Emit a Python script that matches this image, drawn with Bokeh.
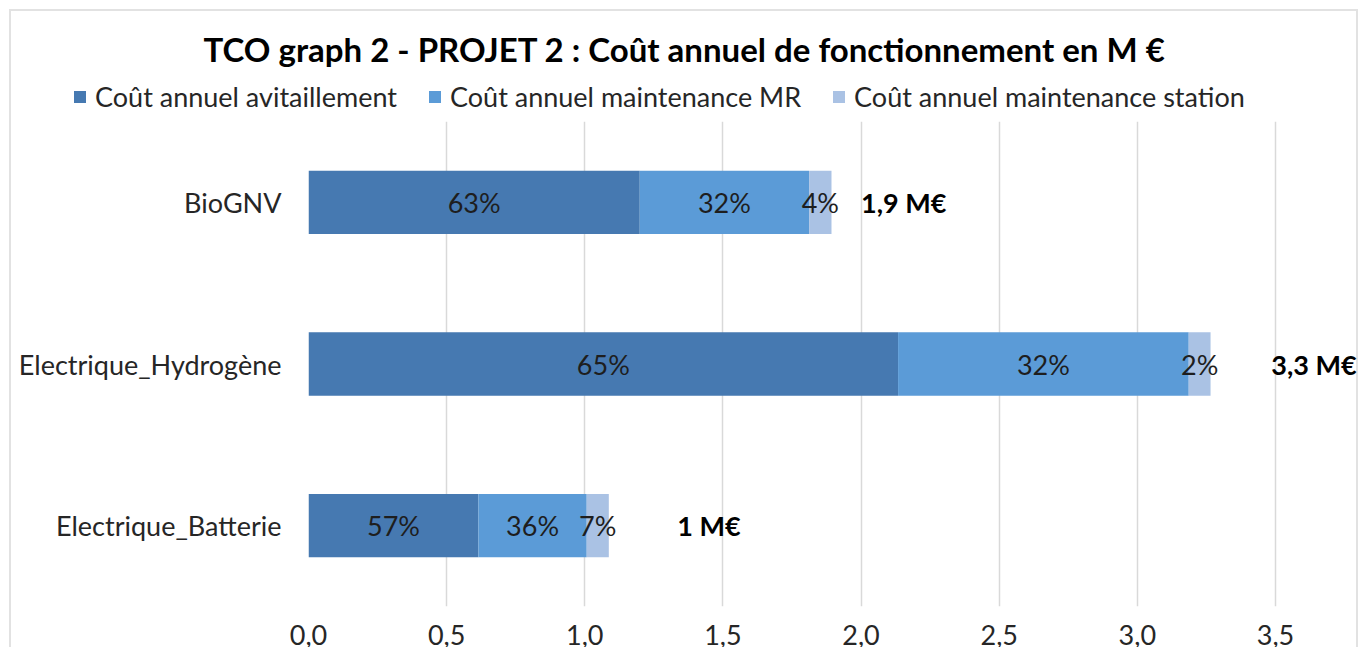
from bokeh.plotting import figure
from bokeh.models import (ColumnDataSource, FactorRange, Range1d, Legend, LegendItem,
                          FixedTicker, Label)
from bokeh.core.properties import value
from bokeh.embed import file_html
from bokeh.resources import INLINE

# ---------------- data ----------------
categories = ["BioGNV", "Electrique_Hydrogène", "Electrique_Batterie"]  # top -> bottom
avitaillement = [1.199, 2.134, 0.615]
maintenance_mr = [0.613, 1.052, 0.392]
maintenance_station = [0.081, 0.079, 0.080]
series_names = ["Coût annuel avitaillement", "Coût annuel maintenance MR",
                "Coût annuel maintenance station"]
total_labels = ["1,9 M€", "3,3 M€", "1 M€"]
total_label_x = [2.0, 3.485, 1.335]
x_ticks = [0.0, 0.5, 1.0, 1.5, 2.0, 2.5, 3.0, 3.5]
x_tick_labels = ["0,0", "0,5", "1,0", "1,5", "2,0", "2,5", "3,0", "3,5"]
title_text = "TCO graph 2 - PROJET 2 :  Coût annuel de fonctionnement en M €"

# ---------------- style ----------------
FONT = "Lato"
FS = "27px"
colors = ["#4679b1", "#5b9bd7", "#aac2e4"]
text_col = "#262626"
W, H_TOP, H_MAIN = 1362, 121, 526
G = "linear-gradient(#e2e2e2,#e2e2e2)"

# ---------------- header figure: title + legend ----------------
top = figure(width=W, height=H_TOP, output_backend="svg", toolbar_location=None,
             x_range=Range1d(0, W), y_range=Range1d(0, H_TOP),
             x_axis_location=None, y_axis_location=None,
             min_border_left=0, min_border_right=0, min_border_top=0, min_border_bottom=0,
             styles={"background": f"{G} 9px 9px / 1349px 2px no-repeat, "
                                   f"{G} 9px 9px / 2px 200px no-repeat, "
                                   f"{G} 1356px 9px / 2px 200px no-repeat, #ffffff"})
top.xgrid.visible = False
top.ygrid.visible = False
top.outline_line_color = None
top.border_fill_color = None
top.background_fill_color = None

# legend swatches (zero-width placeholder bars, outside the visible range)
leg_rends = [top.hbar(y=[-50], left=[0], right=[0], height=1, color=c, line_color=None)
             for c in colors]
legend = Legend(items=[LegendItem(label=n, renderers=[r]) for n, r in zip(series_names, leg_rends)],
                orientation="horizontal", location=(72, 8),
                glyph_width=15, glyph_height=15, label_standoff=8, spacing=30,
                padding=0, margin=0, border_line_color=None, background_fill_alpha=0,
                label_text_font=FONT, label_text_font_size=FS,
                label_text_color=text_col)
top.add_layout(legend, "center")

top.add_layout(Label(x=203, y=H_TOP - 48, text=title_text, text_align="left",
                     text_baseline="middle", text_font=FONT,
                     text_font_size="33px", text_font_style="bold",
                     text_color="#000000"))

# ---------------- main chart ----------------
keys = ["a", "m", "s"]
src = ColumnDataSource(dict(cat=categories, a=avitaillement, m=maintenance_mr,
                            s=maintenance_station))

p = figure(width=W, height=H_MAIN, output_backend="svg", toolbar_location=None,
           y_range=FactorRange(factors=list(reversed(categories))),
           x_range=Range1d(0, 3.815),
           min_border_left=308, min_border_right=0, min_border_top=0,
           min_border_bottom=0,
           styles={"background": f"{G} 9px 0px / 2px 700px no-repeat, "
                                 f"{G} 1356px 0px / 2px 700px no-repeat, #ffffff"})

p.hbar_stack(keys, y="cat", height=0.392, color=colors, line_color=None, source=src)

# percentage labels inside segments
lx, ly, lt = [], [], []
for i, c in enumerate(categories):
    vals = [avitaillement[i], maintenance_mr[i], maintenance_station[i]]
    tot = sum(vals)
    left = 0.0
    for v in vals:
        lx.append(left + v / 2)
        ly.append(c)
        lt.append(f"{round(v / tot * 100)}%")
        left += v
p.text(x=lx, y=ly, text=lt, text_align="center", text_baseline="middle",
       text_font=value(FONT), text_font_size=FS, text_color="#1e1e1e")

# total labels
p.text(x=total_label_x, y=categories, text=total_labels, text_align="left",
       text_baseline="middle", text_font=value(FONT), text_font_size=FS,
       text_font_style="bold", text_color="#000000")

# axes
p.xaxis.ticker = FixedTicker(ticks=x_ticks)
p.xaxis.major_label_overrides = {t: l for t, l in zip(x_ticks, x_tick_labels)}
p.xaxis.axis_line_color = None
p.xaxis.major_tick_line_color = None
p.xaxis.minor_tick_line_color = None
p.xaxis.major_label_standoff = 12
p.xaxis.major_label_text_font = FONT
p.xaxis.major_label_text_font_size = FS
p.xaxis.major_label_text_color = text_col

p.yaxis.axis_line_color = None
p.yaxis.major_tick_line_color = None
p.yaxis.major_label_standoff = 21
p.yaxis.major_label_text_font = FONT
p.yaxis.major_label_text_font_size = FS
p.yaxis.major_label_text_color = text_col

p.xgrid.grid_line_color = "#d9d9d9"
p.xgrid.grid_line_width = 1.5
p.ygrid.visible = False
p.outline_line_color = None
p.border_fill_color = None
p.background_fill_color = None

open("out.html", "w").write(file_html([top, p], INLINE))
